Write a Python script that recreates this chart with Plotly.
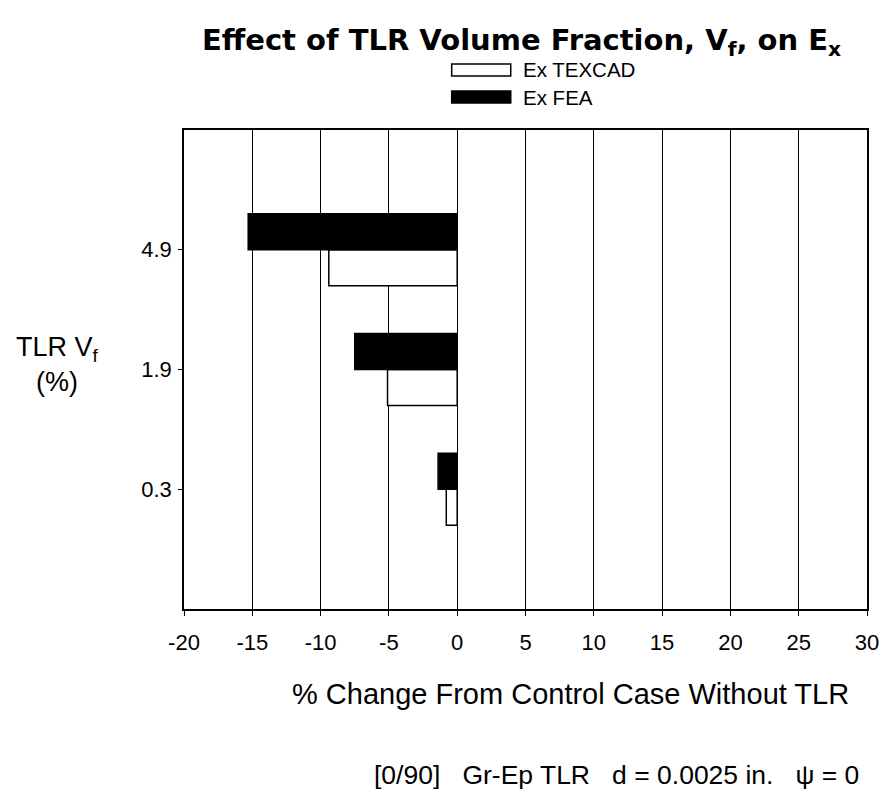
import plotly.graph_objects as go

# TLR volume fraction categories (percent)
categories = ["0.3", "1.9", "4.9"]
# % change in Ex relative to the control case without TLR
ex_texcad = [-0.8, -5.1, -9.4]
ex_fea = [-1.4, -7.5, -15.3]
x_ticks = [-20, -15, -10, -5, 0, 5, 10, 15, 20, 25, 30]

FONT = "Arial, Liberation Sans, sans-serif"
TITLE_FONT = "DejaVu Sans, Verdana, sans-serif"
W, H = 891, 805
L, R, T, B = 184, 13, 130, 196
PW, PH = W - L - R, H - T - B


def px(x):
    return (x - L) / PW


def py(y):
    return (H - B - y) / PH


fig = go.Figure()
fig.add_trace(go.Bar(
    y=categories, x=ex_texcad, orientation="h", name="Ex TEXCAD",
    marker=dict(color="white", line=dict(color="black", width=1.5)),
    showlegend=False,
))
fig.add_trace(go.Bar(
    y=categories, x=ex_fea, orientation="h", name="Ex FEA",
    marker=dict(color="black", line=dict(color="black", width=1.5)),
    showlegend=False,
))

fig.update_layout(
    width=W, height=H,
    margin=dict(l=L, r=R, t=T, b=B),
    paper_bgcolor="white", plot_bgcolor="white",
    barmode="group", bargap=0.4, bargroupgap=0,
    font=dict(family=FONT, color="black"),
    title=dict(
        text="<b>Effect of TLR Volume Fraction, V<sub>f</sub>, on E<sub>x</sub></b>",
        x=px(527), xanchor="center", xref="paper",
        y=1 - 40 / H, yanchor="middle", yref="container",
        font=dict(size=29, family=TITLE_FONT, color="black"),
    ),
)

fig.update_xaxes(
    range=[-20, 30], tickvals=x_ticks, ticktext=[str(v) for v in x_ticks],
    showgrid=True, gridcolor="black", gridwidth=1.3,
    showline=True, linecolor="black", linewidth=1.6, mirror=True,
    ticks="outside", ticklen=5, tickcolor="black", tickwidth=1.3,
    tickfont=dict(size=22, family=FONT), zeroline=False,
    ticklabelstandoff=8, ticklabeloverflow="allow",
)
fig.update_yaxes(
    type="category", categoryorder="array", categoryarray=categories,
    range=[-1, 3], showgrid=False,
    showline=True, linecolor="black", linewidth=1.6, mirror=True,
    ticks="outside", ticklen=4, tickcolor="black", tickwidth=1.3,
    tickfont=dict(size=22, family=FONT), ticklabelstandoff=2,
)

# Horizontal axis label
fig.add_annotation(text="% Change From Control Case Without TLR",
                   xref="paper", yref="paper",
                   x=px(577), y=py(694), xanchor="center", yanchor="middle",
                   showarrow=False, font=dict(size=29, family=FONT))

# Legend drawn as wide swatches with labels
legend_items = [("Ex TEXCAD", "white", 70), ("Ex FEA", "black", 97)]
for label, fill, yc in legend_items:
    fig.add_shape(type="rect", xref="paper", yref="paper",
                  x0=px(456), x1=px(516), y0=py(yc - 6), y1=py(yc + 6),
                  fillcolor=fill, line=dict(color="black", width=1.5))
    fig.add_annotation(text=label, xref="paper", yref="paper",
                       x=px(526), y=py(yc), xanchor="left", yanchor="middle",
                       showarrow=False, font=dict(size=20.5, family=FONT))

# Vertical axis label
fig.add_annotation(text="TLR V<sub>f</sub><br>(%)", xref="paper", yref="paper",
                   x=px(55), y=py(364), xanchor="center", yanchor="middle",
                   showarrow=False, align="center",
                   font=dict(size=27, family=FONT))

# Specimen description
fig.add_annotation(text="[0/90]   Gr-Ep TLR   d = 0.0025 in.   \u03c8 = 0",
                   xref="paper", yref="paper",
                   x=px(623), y=py(775), xanchor="center", yanchor="middle",
                   showarrow=False, font=dict(size=26.5, family=FONT))

fig.write_html("out.html")
